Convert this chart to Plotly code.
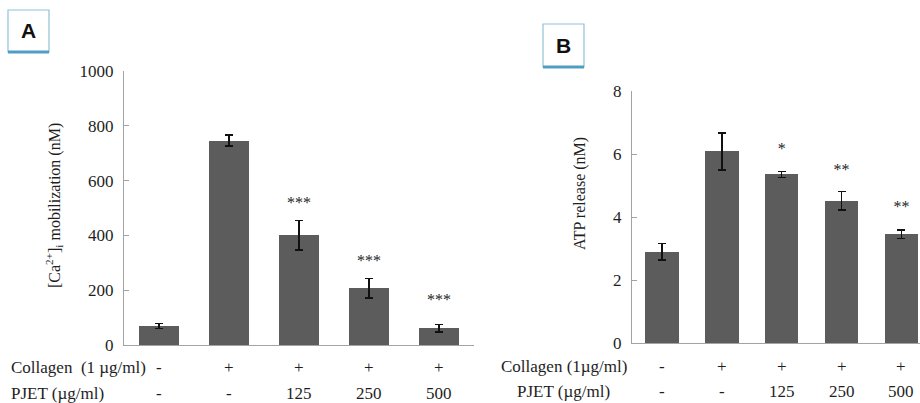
import plotly.graph_objects as go

# ---------------- data ----------------
groups = [0, 1, 2, 3, 4]
collagen_row = ["-", "+", "+", "+", "+"]
pjet_row = ["-", "-", "125", "250", "500"]

ca_values = [70, 746, 400, 207, 61]
ca_errors = [9, 20, 54, 36, 13]
ca_sig = ["", "", "***", "***", "***"]
ca_sig_y = [None, None, 515, 303, 160]

atp_values = [2.90, 6.08, 5.35, 4.52, 3.45]
atp_errors = [0.26, 0.58, 0.10, 0.29, 0.14]
atp_sig = ["", "", "*", "**", "**"]
atp_sig_y = [None, None, 6.12, 5.45, 4.30]

ca_ticks = [0, 200, 400, 600, 800, 1000]
atp_ticks = [0, 2, 4, 6, 8]

# ---------------- style ----------------
W, H = 920, 403
SERIF = '"Liberation Serif", "Times New Roman", Times, serif'
SANS = '"Liberation Sans", Arial, sans-serif'
BAR = "#5c5c5c"
AXIS = "#a3a3a3"
TXT = "#1e1e1e"

def px_x(p):
    return p / W

def px_y(p):
    return 1 - p / H

fig = go.Figure()

err_style = dict(type="data", color="#111111", thickness=1.5, width=4)

fig.add_trace(go.Bar(x=groups, y=ca_values, error_y=dict(array=ca_errors, **err_style),
                     marker=dict(color=BAR, line=dict(width=0)), width=0.56,
                     xaxis="x", yaxis="y", showlegend=False))
fig.add_trace(go.Bar(x=groups, y=atp_values, error_y=dict(array=atp_errors, **err_style),
                     marker=dict(color=BAR, line=dict(width=0)), width=0.56,
                     xaxis="x2", yaxis="y2", showlegend=False))

fig.add_trace(go.Scatter(x=[g for g, s in zip(groups, ca_sig) if s],
                         y=[v for v, s in zip(ca_sig_y, ca_sig) if s],
                         text=[s for s in ca_sig if s], mode="text",
                         textfont=dict(family=SERIF, size=16, color=TXT),
                         xaxis="x", yaxis="y", showlegend=False, hoverinfo="skip"))
fig.add_trace(go.Scatter(x=[g for g, s in zip(groups, atp_sig) if s],
                         y=[v for v, s in zip(atp_sig_y, atp_sig) if s],
                         text=[s for s in atp_sig if s], mode="text",
                         textfont=dict(family=SERIF, size=16, color=TXT),
                         xaxis="x2", yaxis="y2", showlegend=False, hoverinfo="skip"))

xcommon = dict(showline=True, linecolor=AXIS, linewidth=1.3, showticklabels=False,
               ticks="", showgrid=False, zeroline=False, fixedrange=True, automargin=False)
ycommon = dict(showline=True, linecolor=AXIS, linewidth=1.3, ticks="inside", ticklen=5,
               tickcolor=AXIS, tickwidth=1.3, showgrid=False, zeroline=False, automargin=False,
               tickfont=dict(family=SERIF, size=17, color=TXT), ticklabelstandoff=6)

fig.update_layout(
    template="none",
    width=W, height=H, margin=dict(l=0, r=0, t=0, b=0, pad=0), autosize=False,
    font=dict(family=SERIF, color=TXT),
    paper_bgcolor="white", plot_bgcolor="white", bargap=0, showlegend=False,
    xaxis=dict(domain=[px_x(124), px_x(474)], range=[-0.5, 4.5], anchor="y", **xcommon),
    yaxis=dict(domain=[px_y(345), px_y(71)], range=[0, 1000], tickvals=ca_ticks,
               anchor="x", **ycommon),
    xaxis2=dict(domain=[px_x(632), 1.0], range=[-0.5, 4.31], anchor="y2", **xcommon),
    yaxis2=dict(domain=[px_y(343), px_y(91)], range=[0, 8], tickvals=atp_ticks,
                anchor="x2", **ycommon),
)

ann = []
ann.append(dict(text="[Ca<sup>2+</sup>]<sub>i</sub> mobilization (nM)", textangle=-90,
                x=px_x(54), y=px_y(206), xref="paper", yref="paper",
                xanchor="center", yanchor="middle", showarrow=False,
                font=dict(family=SERIF, size=16, color=TXT)))
ann.append(dict(text="ATP release (nM)", textangle=-90,
                x=px_x(580), y=px_y(194), xref="paper", yref="paper",
                xanchor="center", yanchor="middle", showarrow=False,
                font=dict(family=SERIF, size=16, color=TXT)))

rowfont = dict(family=SERIF, size=17, color=TXT)
ann.append(dict(text="Collagen  (1 µg/ml)", x=px_x(9), y=px_y(367), xref="paper", yref="paper",
                xanchor="left", yanchor="middle", showarrow=False, font=rowfont))
ann.append(dict(text="PJET (µg/ml)", x=px_x(9), y=px_y(393), xref="paper", yref="paper",
                xanchor="left", yanchor="middle", showarrow=False, font=rowfont))
ann.append(dict(text="Collagen (1µg/ml)", x=px_x(564), y=px_y(366), xref="paper", yref="paper",
                xanchor="center", yanchor="middle", showarrow=False, font=rowfont))
ann.append(dict(text="PJET (µg/ml)", x=px_x(563), y=px_y(391), xref="paper", yref="paper",
                xanchor="center", yanchor="middle", showarrow=False, font=rowfont))
for g, c, p in zip(groups, collagen_row, pjet_row):
    for xr, yc, yp in (("x", 367, 393), ("x2", 366, 391)):
        ann.append(dict(text=c, x=g, y=px_y(yc), xref=xr, yref="paper", xanchor="center",
                        yanchor="middle", showarrow=False, font=rowfont))
        ann.append(dict(text=p, x=g, y=px_y(yp), xref=xr, yref="paper", xanchor="center",
                        yanchor="middle", showarrow=False, font=rowfont))

boxes = (("A", 8, 10, 49, 52), ("B", 543, 24, 584, 67))
for letter, x0, y0, x1, y1 in boxes:
    ann.append(dict(text="<b>%s</b>" % letter, x=px_x((x0 + x1) / 2), y=px_y((y0 + y1) / 2),
                    xref="paper", yref="paper", xanchor="center", yanchor="middle",
                    showarrow=False, font=dict(family=SANS, size=21, color="#111111")))
fig.update_layout(annotations=ann)

shapes = []
for _, x0, y0, x1, y1 in boxes:
    shapes.append(dict(type="rect", xref="paper", yref="paper", x0=px_x(x0), x1=px_x(x1),
                       y0=px_y(y1), y1=px_y(y0), line=dict(color="#8fc1d8", width=1.2)))
    shapes.append(dict(type="line", xref="paper", yref="paper", x0=px_x(x0), x1=px_x(x1),
                       y0=px_y(y1), y1=px_y(y1), line=dict(color="#4f9cc4", width=3)))
fig.update_layout(shapes=shapes)

fig.write_html("out.html", config={"displayModeBar": False},
               post_script="document.body.style.margin='0';document.body.style.overflow='hidden';")
